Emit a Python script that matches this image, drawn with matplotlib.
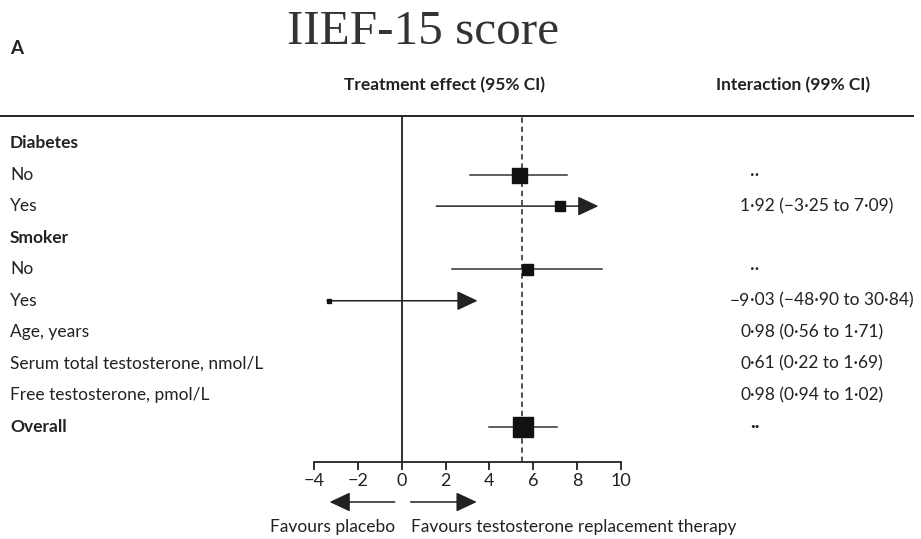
import matplotlib
matplotlib.use("Agg")
import matplotlib.pyplot as plt
from matplotlib.lines import Line2D
from matplotlib.patches import FancyArrowPatch
import matplotlib.transforms as mtransforms

plt.rcParams['font.family'] = ['Lato', 'DejaVu Sans']

# ---- data ----
row_labels = ["Diabetes", "No", "Yes", "Smoker", "No", "Yes",
              "Age, years", "Serum total testosterone, nmol/L",
              "Free testosterone, pmol/L", "Overall"]
row_bold = [True, False, False, True, False, False, False, False, False, True]
interaction = ["", "··", "1·92 (−3·25 to 7·09)", "", "··",
               "−9·03 (−48·90 to 30·84)", "0·98 (0·56 to 1·71)",
               "0·61 (0·22 to 1·69)", "0·98 (0·94 to 1·02)", "··"]
# forest rows
est_rows = [1, 2, 4, 5, 9]
estimates = [5.34, 7.23, 5.71, -3.32, 5.51]
lower_ci = [3.10, 1.58, 2.30, -3.40, 3.96]
upper_ci = [7.55, 8.97, 9.15, 3.46, 7.08]
arrows = [False, True, False, True, False]
marker_px = [15, 10, 11, 5, 20]
overall_effect = 5.5
xticks = [-4, -2, 0, 2, 4, 6, 8, 10]

W, H = 921, 539
fig = plt.figure(figsize=(W / 100, H / 100), dpi=100)

def fx(px):
    return px / W

def fy(py):
    return 1 - py / H

# axes: -4..10 maps 314..621 px ; rows y = 143 + 31.55*i
ax_left, ax_right = 314, 621
ax_top, ax_bot = 116, 462
ax = fig.add_axes([fx(ax_left), fy(ax_bot), fx(ax_right - ax_left), (ax_bot - ax_top) / H])
ax.set_xlim(-4, 10)
row0, rstep = 143, 31.55
ax.set_ylim((ax_bot - row0) / rstep, (ax_top - row0) / rstep)

for s in ['top', 'right', 'left']:
    ax.spines[s].set_visible(False)
ax.spines['bottom'].set_linewidth(1.3)
ax.spines['bottom'].set_color('#222222')
ax.set_yticks([])
ax.set_xticks(xticks)
ax.set_xticklabels([str(t).replace('-', '−') for t in xticks], fontsize=13, color='#222222')
ax.tick_params(axis='x', direction='out', length=6, width=1.3, color='#222222', pad=2)
ax.patch.set_alpha(0)

line_col = '#333333'
ax.axvline(0, color='#222222', lw=1.3, zorder=1)
ax.axvline(overall_effect, color='#222222', lw=1.1, ls=(0, (3.5, 2.5)), zorder=1)

for r, e, lo, hi, arr, mp in zip(est_rows, estimates, lower_ci, upper_ci, arrows, marker_px):
    if arr:
        ax.annotate("", xy=(hi, r), xytext=(lo, r),
                    arrowprops=dict(arrowstyle='-|>,head_length=0.85,head_width=0.4',
                                    mutation_scale=15, shrinkA=0, shrinkB=0,
                                    color='#222222', lw=1.1))
    else:
        ax.plot([lo, hi], [r, r], color=line_col, lw=1.1, zorder=2)
    ax.plot([e], [r], marker='s', markersize=mp * 0.72, color='#111111',
            markeredgecolor='#111111', zorder=3)

# row labels and interaction column (decimal-aligned)
trans = mtransforms.blended_transform_factory(fig.transFigure, ax.transData)
dot_x = fx(750)
for i, (lab, b, it) in enumerate(zip(row_labels, row_bold, interaction)):
    fw = 'bold' if b else 'normal'
    ax.text(fx(10), i, lab, transform=trans, ha='left', va='center',
            fontsize=12.5, fontweight=fw, color='#222222')
    if it:
        k = it.find('·')
        left, right = it[:k], it[k:]
        if left:
            ax.text(dot_x, i, left, transform=trans, ha='right', va='center',
                    fontsize=12.5, fontweight=fw, color='#222222')
        ax.text(dot_x, i, right, transform=trans, ha='left', va='center',
                fontsize=12.5, fontweight=fw, color='#222222')

# top rule
fig.add_artist(Line2D([0, fx(913)], [fy(116), fy(116)], color='#222222', lw=1.4))

# titles
fig.text(fx(423), fy(32), "IIEF-15 score", family='Liberation Serif', fontsize=35.5,
         ha='center', va='center', color='#333333')
fig.text(fx(10), fy(48), "A", fontsize=13.5, fontweight='bold', ha='left', va='center', color='#222222')
fig.text(fx(444), fy(85), "Treatment effect (95% CI)", fontsize=12.5, fontweight='bold',
         ha='center', va='center', color='#222222')
fig.text(fx(793), fy(85), "Interaction (99% CI)", fontsize=12.5, fontweight='bold',
         ha='center', va='center', color='#222222')

# favours arrows
arr_y = fy(502)
def xpix(v):
    return ax_left + (v + 4) / 14 * (ax_right - ax_left)
for a, b in [(-0.32, -3.29), (0.41, 3.42)]:
    fig.add_artist(FancyArrowPatch(
        (fx(xpix(a)), arr_y), (fx(xpix(b)), arr_y), transform=fig.transFigure,
        arrowstyle='-|>,head_length=0.85,head_width=0.4', mutation_scale=15,
        color='#222222', lw=1.1, shrinkA=0, shrinkB=0))
fig.text(fx(395), fy(527), "Favours placebo", fontsize=12.5, ha='right', va='center', color='#222222')
fig.text(fx(411), fy(527), "Favours testosterone replacement therapy", fontsize=12.5,
         ha='left', va='center', color='#222222')

fig.savefig("out.png", dpi=100)
